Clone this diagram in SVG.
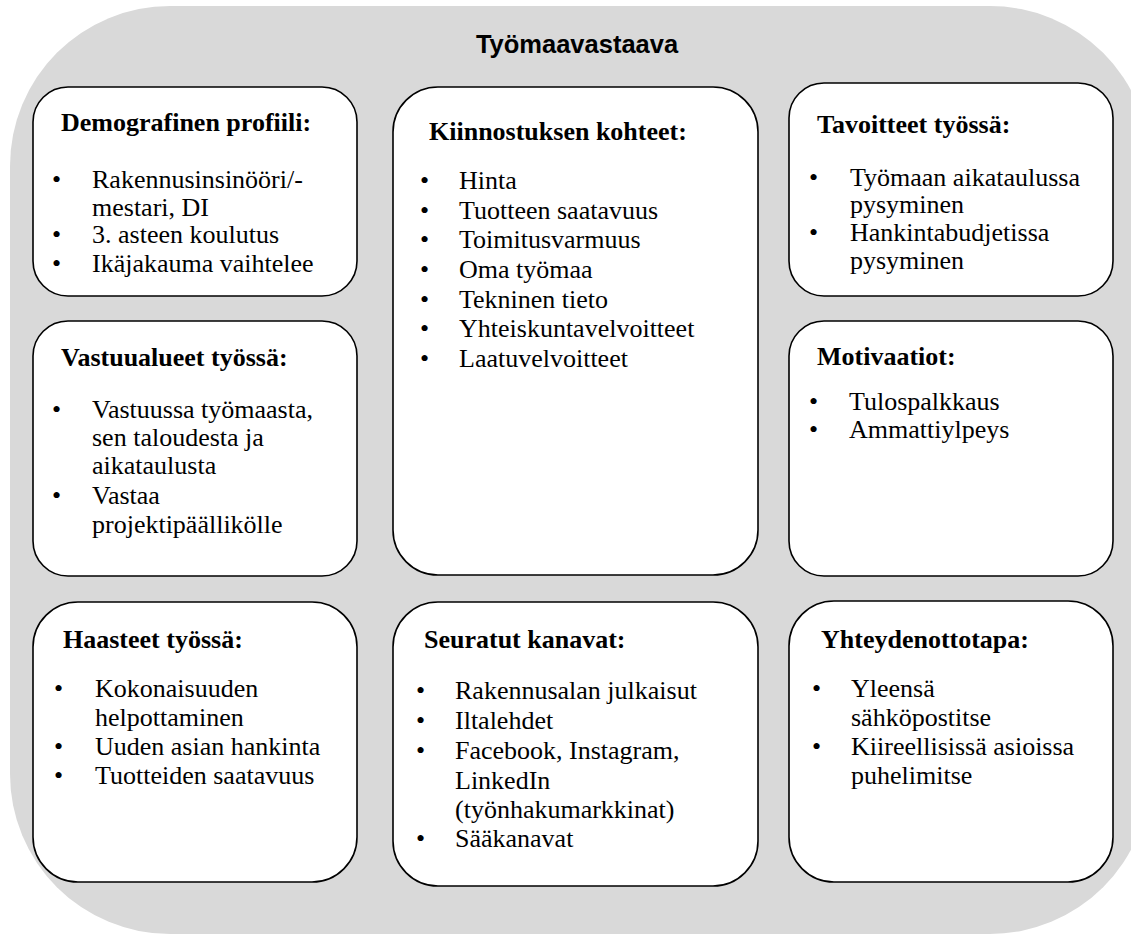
<svg xmlns="http://www.w3.org/2000/svg" width="1131" height="937" viewBox="0 0 1131 937">
  <style>
    .panel { fill: #ffffff; stroke: #000000; stroke-width: 1.6; }
    .title { font-family: "Liberation Sans", Arial, sans-serif; font-weight: bold; font-size: 25.5px; fill: #000; }
    .head { font-family: "Liberation Serif", "Times New Roman", serif; font-weight: bold; font-size: 26px; fill: #000; }
    .item { font-family: "Liberation Serif", "Times New Roman", serif; font-size: 26px; fill: #000; }
  </style>

  <!-- background card -->
  <rect x="10" y="6" width="1140" height="928" rx="160" ry="160" fill="#d9d9d9"/>
  <text class="title" x="577" y="53" text-anchor="middle">Työmaavastaava</text>

  <g id="demografinen">
    <rect class="panel" x="33" y="87" width="324" height="209" rx="35"/>
    <text class="head" x="61" y="131">Demografinen profiili:</text>
    <text class="item"><tspan x="52" y="188">•</tspan><tspan x="92" y="188">Rakennusinsinööri/-</tspan><tspan x="92" y="216">mestari, DI</tspan><tspan x="52" y="243">•</tspan><tspan x="92" y="243">3. asteen koulutus</tspan><tspan x="52" y="272">•</tspan><tspan x="92" y="272">Ikäjakauma vaihtelee</tspan></text>
  </g>

  <g id="kiinnostus">
    <rect class="panel" x="393" y="87" width="365" height="488" rx="45"/>
    <text class="head" x="429" y="140">Kiinnostuksen kohteet:</text>
    <text class="item"><tspan x="420" y="189">•</tspan><tspan x="459" y="189">Hinta</tspan><tspan x="420" y="219">•</tspan><tspan x="459" y="219">Tuotteen saatavuus</tspan><tspan x="420" y="248">•</tspan><tspan x="459" y="248">Toimitusvarmuus</tspan><tspan x="420" y="278">•</tspan><tspan x="459" y="278">Oma työmaa</tspan><tspan x="420" y="308">•</tspan><tspan x="459" y="308">Tekninen tieto</tspan><tspan x="420" y="337">•</tspan><tspan x="459" y="337">Yhteiskuntavelvoitteet</tspan><tspan x="420" y="367">•</tspan><tspan x="459" y="367">Laatuvelvoitteet</tspan></text>
  </g>

  <g id="tavoitteet">
    <rect class="panel" x="789" y="83" width="324" height="213" rx="35"/>
    <text class="head" x="817" y="133">Tavoitteet työssä:</text>
    <text class="item"><tspan x="809" y="186">•</tspan><tspan x="850" y="186">Työmaan aikataulussa</tspan><tspan x="850" y="213">pysyminen</tspan><tspan x="809" y="241">•</tspan><tspan x="850" y="241">Hankintabudjetissa</tspan><tspan x="850" y="269">pysyminen</tspan></text>
  </g>

  <g id="vastuualueet">
    <rect class="panel" x="33" y="321" width="324" height="255" rx="35"/>
    <text class="head" x="61" y="366">Vastuualueet työssä:</text>
    <text class="item"><tspan x="52" y="418">•</tspan><tspan x="92" y="418">Vastuussa työmaasta,</tspan><tspan x="92" y="446">sen taloudesta ja</tspan><tspan x="92" y="474">aikataulusta</tspan><tspan x="52" y="504">•</tspan><tspan x="92" y="504">Vastaa</tspan><tspan x="92" y="533">projektipäällikölle</tspan></text>
  </g>

  <g id="motivaatiot">
    <rect class="panel" x="789" y="321" width="324" height="255" rx="35"/>
    <text class="head" x="817" y="365">Motivaatiot:</text>
    <text class="item"><tspan x="809" y="410">•</tspan><tspan x="849" y="410">Tulospalkkaus</tspan><tspan x="809" y="438">•</tspan><tspan x="849" y="438">Ammattiylpeys</tspan></text>
  </g>

  <g id="haasteet">
    <rect class="panel" x="33" y="602" width="324" height="280" rx="45"/>
    <text class="head" x="63" y="648">Haasteet työssä:</text>
    <text class="item"><tspan x="54" y="697">•</tspan><tspan x="95" y="697">Kokonaisuuden</tspan><tspan x="95" y="726">helpottaminen</tspan><tspan x="54" y="755">•</tspan><tspan x="95" y="755">Uuden asian hankinta</tspan><tspan x="54" y="784">•</tspan><tspan x="95" y="784">Tuotteiden saatavuus</tspan></text>
  </g>

  <g id="kanavat">
    <rect class="panel" x="393" y="602" width="365" height="284" rx="45"/>
    <text class="head" x="424" y="648">Seuratut kanavat:</text>
    <text class="item"><tspan x="416" y="699">•</tspan><tspan x="455" y="699">Rakennusalan julkaisut</tspan><tspan x="416" y="729">•</tspan><tspan x="455" y="729">Iltalehdet</tspan><tspan x="416" y="759">•</tspan><tspan x="455" y="759">Facebook, Instagram,</tspan><tspan x="455" y="789">LinkedIn</tspan><tspan x="455" y="818">(työnhakumarkkinat)</tspan><tspan x="416" y="847">•</tspan><tspan x="455" y="847">Sääkanavat</tspan></text>
  </g>

  <g id="yhteydenotto">
    <rect class="panel" x="789" y="601" width="324" height="281" rx="45"/>
    <text class="head" x="821" y="648">Yhteydenottotapa:</text>
    <text class="item"><tspan x="812" y="697">•</tspan><tspan x="851" y="697">Yleensä</tspan><tspan x="851" y="726">sähköpostitse</tspan><tspan x="812" y="755">•</tspan><tspan x="851" y="755">Kiireellisissä asioissa</tspan><tspan x="851" y="784">puhelimitse</tspan></text>
  </g>

  <g id="connectors"></g>
</svg>
